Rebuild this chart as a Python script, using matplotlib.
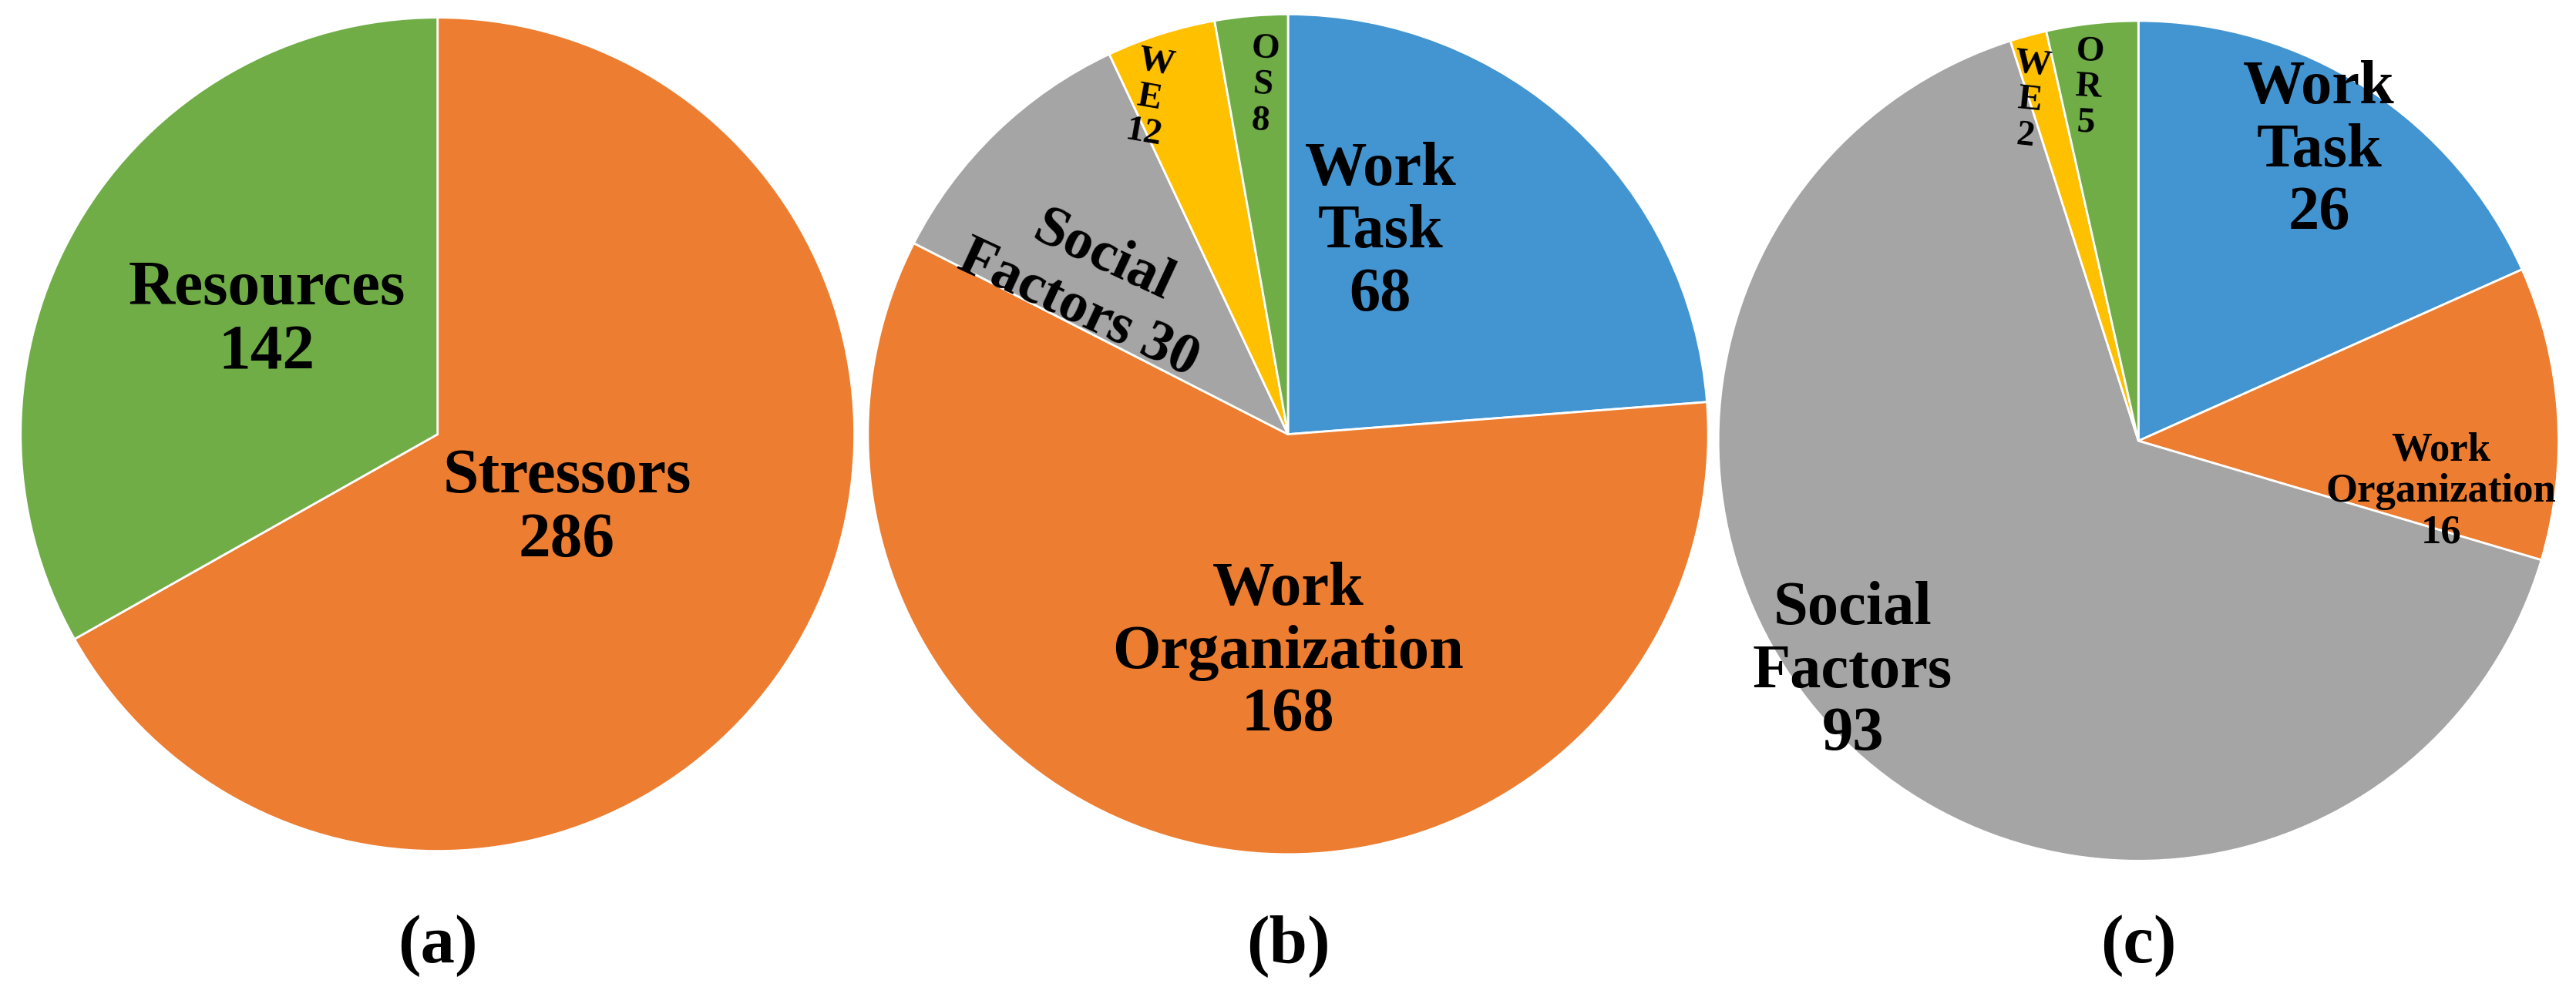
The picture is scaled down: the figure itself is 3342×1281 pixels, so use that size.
import matplotlib
matplotlib.use("Agg")
import matplotlib.pyplot as plt

a_labels = ["Stressors\n286", "Resources\n142"]
a_values = [286, 142]
b_labels = ["Work\nTask\n68", "Work\nOrganization\n168", "Social\nFactors 30", "W\nE\n12", "O\nS\n8"]
b_values = [68, 168, 30, 12, 8]
c_labels = ["Work\nTask\n26", "Work\nOrganization\n16", "Social\nFactors\n93", "W\nE\n2", "O\nR\n5"]
c_values = [26, 16, 93, 2, 5]
titles = ["(a)", "(b)", "(c)"]

BLUE, ORANGE, GRAY, YELLOW, GREEN = "#4395D1", "#ED7D31", "#A5A5A5", "#FFC000", "#70AD47"
plt.rcParams['font.family'] = ['Liberation Serif', 'DejaVu Serif']

fig = plt.figure(figsize=(33.42, 12.81), dpi=100)
W, H = 1566, 600
def add_ax(cx, cy, r):
    h = 2 * r / H
    w = 2 * r / W
    return fig.add_axes([cx / W - w / 2, 1 - cy / H - h / 2, w, h])

specs = [
    (266, 264, 256, a_values, [ORANGE, GREEN], a_labels,
     [(0.31, -0.18, 60, 0), (-0.41, 0.27, 60, 0)]),
    (783, 264, 258, b_values, [BLUE, ORANGE, GRAY, YELLOW, GREEN], b_labels,
     [(0.22, 0.48, 58, 0), (0.0, -0.52, 58, 0), (-0.47, 0.36, 54, -25),
      (-0.33, 0.80, 34, -10), (-0.06, 0.83, 34, -4)]),
    (1300, 268, 258, c_values, [BLUE, ORANGE, GRAY, YELLOW, GREEN], c_labels,
     [(0.43, 0.69, 58, 0), (0.72, -0.12, 38, 0), (-0.68, -0.55, 58, 0),
      (-0.26, 0.81, 34, -6), (-0.12, 0.84, 34, -3)]),
]

for i, (cx, cy, r, vals, cols, labs, pos) in enumerate(specs):
    ax = add_ax(cx, cy, r)
    ax.pie(vals, colors=cols, startangle=90, counterclock=False, radius=1,
           wedgeprops=dict(edgecolor="white", linewidth=2))
    ax.set_xlim(-1.01, 1.01); ax.set_ylim(-1.01, 1.01)
    for lab, (x, y, fs, rot) in zip(labs, pos):
        ax.text(x, y, lab, ha="center", va="center", fontsize=fs, fontweight="bold",
                rotation=rot, linespacing=1.15, color="black")
    fig.text(cx / W, 25 / H, titles[i], ha="center", va="center", fontsize=64, fontweight="bold")

fig.savefig("out.png", dpi=100, facecolor="white")
